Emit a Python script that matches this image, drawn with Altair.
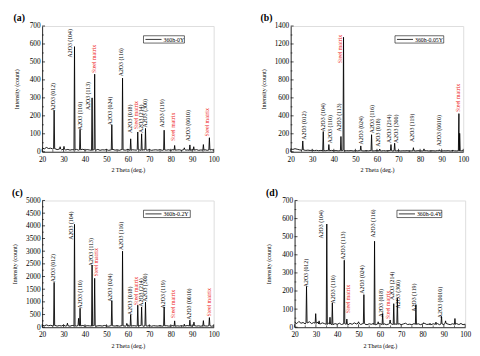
import altair as alt
import pandas as pd

FONT = "Liberation Serif"
RED = "#ee2222"

# ---------------- data ----------------
# baseline intensity at 2θ = 20, 21, ..., 100
a_base = [22, 16, 24, 18, 20, 15, 17, 12, 15, 11, 14, 10, 13, 9, 12, 10, 13, 9,
          11, 14, 9, 12, 10, 8, 11, 9, 13, 8, 11, 10, 12, 8, 10, 13, 9, 11,
          8, 12, 10, 9, 13, 8, 11, 10, 9, 12, 8, 11, 10, 9, 12, 8, 10, 11,
          9, 12, 8, 10, 9, 11, 8, 12, 9, 10, 11, 8, 12, 9, 10, 8, 11, 9,
          12, 8, 10, 9, 11, 8, 10, 12, 9]
a_peak_x = [25.6, 28.4, 30.2, 35.1, 37.7, 43.3, 44.5, 52.5, 57.5, 61.3, 64.6, 66.4,
            68.2, 76.9, 81.8, 86.3, 88.9, 90.7, 95.2, 98.0]
a_peak_h = [230, 28, 30, 585, 125, 300, 432, 150, 410, 72, 110, 100,
            130, 120, 35, 22, 38, 28, 40, 78]
a_lab_t = ["A2O3 (012)", "A2O3 (104)", "A2O3 (110)", "A2O3 (113)", "Steel matrix",
           "A2O3 (024)", "A2O3 (116)", "A2O3 (018)", "Steel matrix", "A2O3 (214)",
           "A2O3 (300)", "A2O3 (119)", "Steel matrix", "A2O3 (0010)", "Steel matrix"]
a_lab_x = [25.1, 33.0, 37.9, 41.3, 44.3, 51.8, 56.7, 60.9, 64.0, 65.9, 68.0, 76.1, 81.0, 88.2, 96.9]
a_lab_y = [225, 525, 121, 232, 438, 148, 420, 105, 125, 105, 135, 135, 60, 58, 85]

b_base = [32, 26, 34, 28, 22, 18, 20, 15, 18, 14, 17, 13, 16, 12, 15, 13, 11, 14,
          12, 15, 11, 13, 10, 12, 14, 10, 12, 11, 13, 9, 12, 10, 13, 11, 9, 12,
          10, 13, 9, 11, 12, 10, 9, 12, 10, 11, 13, 9, 11, 10, 12, 9, 11, 10,
          12, 9, 10, 11, 9, 12, 10, 9, 11, 12, 9, 10, 11, 9, 12, 10, 9, 11,
          10, 12, 9, 11, 10, 9, 11, 10, 12]
b_peak_x = [25.6, 35.1, 37.7, 43.3, 44.5, 52.5, 57.5, 61.3, 66.5, 68.2, 76.9, 81.8,
            88.9, 95.2, 98.0, 98.35]
b_peak_h = [120, 225, 80, 170, 1275, 65, 190, 30, 80, 95, 45, 32, 22, 20, 425, 205]
b_lab_t = ["A2O3 (012)", "A2O3 (104)", "A2O3 (110)", "A2O3 (113)", "Steel matrix",
           "A2O3 (024)", "A2O3 (116)", "A2O3 (018)", "A2O3 (214)", "A2O3 (300)",
           "A2O3 (119)", "A2O3 (0010)", "Steel matrix"]
b_lab_x = [26.2, 35.0, 38.1, 42.4, 43.1, 52.8, 57.9, 60.3, 65.6, 68.7, 76.5, 89.0, 97.6]
b_lab_y = [134, 225, 95, 225, 985, 80, 206, 55, 98, 98, 110, 60, 442]

c_base = [80, 55, 90, 60, 75, 50, 70, 45, 65, 50, 80, 45, 60, 40, 70, 55, 45, 65,
          50, 70, 40, 60, 55, 45, 65, 40, 55, 60, 45, 70, 50, 40, 60, 55, 45, 65,
          40, 60, 50, 45, 65, 40, 55, 60, 45, 50, 70, 40, 55, 45, 65, 40, 60, 50,
          45, 65, 40, 55, 60, 45, 50, 65, 40, 55, 45, 60, 40, 55, 65, 45, 50, 60,
          45, 55, 40, 60, 50, 45, 60, 40, 55]
c_peak_x = [25.6, 31.8, 35.1, 37.0, 37.7, 43.3, 44.5, 52.5, 57.5, 59.5, 61.3, 64.6,
            66.4, 68.2, 76.9, 81.8, 86.3, 88.9, 90.8, 95.2, 98.0]
c_peak_h = [1770, 160, 4060, 350, 750, 2450, 1930, 1050, 3000, 150, 500, 870,
            800, 990, 800, 250, 120, 280, 200, 260, 380]
c_lab_t = ["A2O3 (012)", "A2O3 (104)", "A2O3 (110)", "A2O3 (113)", "Steel matrix",
           "A2O3 (024)", "A2O3 (116)", "A2O3 (018)", "Steel matrix", "A2O3 (214)",
           "A2O3 (300)", "A2O3 (119)", "Steel matrix", "A2O3 (0010)", "Steel matrix"]
c_lab_x = [25.1, 33.3, 37.9, 42.7, 45.0, 51.8, 56.7, 60.9, 64.0, 66.2, 68.2, 76.4, 81.1, 88.5, 97.7]
c_lab_y = [1770, 3450, 742, 2410, 2000, 1000, 3050, 487, 870, 808, 1000, 742, 358, 296, 423]

d_base = [28, 20, 32, 22, 26, 18, 24, 30, 20, 26, 22, 28, 18, 24, 20, 16, 22, 18,
          14, 20, 16, 22, 15, 19, 17, 13, 21, 16, 24, 18, 22, 15, 20, 17, 14, 19,
          16, 21, 14, 18, 20, 15, 19, 14, 17, 21, 15, 18, 16, 20, 14, 18, 22, 15,
          17, 14, 20, 16, 19, 14, 18, 21, 15, 17, 14, 19, 16, 20, 14, 18, 15, 21,
          17, 14, 19, 16, 20, 15, 18, 14, 17]
d_peak_x = [25.6, 29.9, 31.5, 35.1, 36.6, 37.7, 43.3, 44.5, 50.0, 52.5, 57.5, 59.2,
            61.3, 64.8, 66.5, 68.2, 76.9, 80.5, 83.5, 86.3, 88.9, 90.8, 95.2, 98.0]
d_peak_h = [225, 75, 35, 570, 55, 135, 370, 45, 30, 180, 475, 30,
            75, 40, 130, 160, 125, 25, 22, 28, 60, 35, 48, 22]
d_lab_t = ["A2O3 (012)", "A2O3 (104)", "A2O3 (110)", "A2O3 (113)", "Steel matrix",
           "A2O3 (024)", "A2O3 (116)", "A2O3 (018)", "Steel matrix", "A2O3 (214)",
           "A2O3 (300)", "A2O3 (119)", "A2O3 (0010)"]
d_lab_x = [25.5, 32.6, 38.1, 42.9, 44.9, 51.8, 56.8, 60.6, 63.9, 65.5, 68.4, 75.8, 88.2]
d_lab_y = [221, 490, 131, 373, 77, 185, 495, 55, 45, 150, 104, 86, 50]

series_names = ["360h-0Y", "360h-0.05Y", "360h-0.2Y", "360h-0.4Y"]
panel_tags = ["(a)", "(b)", "(c)", "(d)"]

x_major = [20, 30, 40, 50, 60, 70, 80, 90, 100]
x_minor = [25, 35, 45, 55, 65, 75, 85, 95]
yt_a = [0, 100, 200, 300, 400, 500, 600, 700]
ym_a = [50, 150, 250, 350, 450, 550, 650]
yt_b = [0, 200, 400, 600, 800, 1000, 1200, 1400]
ym_b = [100, 300, 500, 700, 900, 1100, 1300]
yt_c = [0, 500, 1000, 1500, 2000, 2500, 3000, 3500, 4000, 4500, 5000]
ym_c = [250, 750, 1250, 1750, 2250, 2750, 3250, 3750, 4250, 4750]


def spectrum(base, px, ph, hw=0.25):
    rows = []
    for i, b in enumerate(base):
        x = 20 + i
        if min(abs(x - p) for p in px) > hw + 0.05:
            rows.append((x, b))
    for p, h in zip(px, ph):
        b = base[int(round(p)) - 20]
        rows += [(p - hw, b), (p, h), (p + hw, b)]
    rows.sort()
    return pd.DataFrame(rows, columns=["x", "y"])


def panel(idx, base, px, ph, lt, lx, ly, yt, ym, W, H, tpad, box):
    xs = alt.Scale(domain=[20, 100], nice=False, zero=False)
    ys = alt.Scale(domain=[0, yt[-1]], nice=False)
    ax_x = alt.Axis(
        values=x_major, title="2 Theta (deg.)", ticks=False, grid=False,
        labelFont=FONT, labelFontSize=7.5, labelColor="black", labelPadding=4,
        labelFlush=False, titleFont=FONT, titleFontSize=6.2, titleFontWeight="normal",
        titleColor="black", titlePadding=4, domainColor="black", domainWidth=0.8)
    ax_y = alt.Axis(
        values=yt, format="d", title="Intensity (count)", ticks=False, grid=False,
        labelFont=FONT, labelFontSize=7.5, labelColor="black", labelPadding=2,
        labelFlush=False, titleFont=FONT, titleFontSize=6.2, titleFontWeight="normal",
        titleColor="black", titlePadding=tpad, domainColor="black", domainWidth=0.8)
    X = alt.X("x:Q", scale=xs, axis=ax_x)
    Y = alt.Y("y:Q", scale=ys, axis=ax_y)

    spec = spectrum(base, px, ph)
    line = alt.Chart(spec).mark_line(color="black", strokeWidth=0.9).encode(x=X, y=Y)

    labs = pd.DataFrame({"t": lt, "x": lx, "y": ly})
    labs["red"] = labs["t"].str.startswith("Steel")
    txt_common = dict(angle=270, align="left", baseline="middle", font=FONT, fontSize=6)
    black_txt = alt.Chart(labs[~labs["red"]]).mark_text(color="black", **txt_common).encode(
        x=X, y=Y, text="t:N")
    red_txt = alt.Chart(labs[labs["red"]]).mark_text(color=RED, **txt_common).encode(
        x=X, y=Y, text="t:N")
    # inward ticks
    ymaj = alt.Chart(pd.DataFrame({"y": yt})).mark_rule(color="black", strokeWidth=0.7).encode(
        y=Y, x=alt.value(0), x2=alt.value(3))
    ymin = alt.Chart(pd.DataFrame({"y": ym})).mark_rule(color="black", strokeWidth=0.6).encode(
        y=Y, x=alt.value(0), x2=alt.value(1.8))
    xmaj = alt.Chart(pd.DataFrame({"x": x_major})).mark_rule(color="black", strokeWidth=0.7).encode(
        x=X, y=alt.value(H), y2=alt.value(H - 3))
    xmin = alt.Chart(pd.DataFrame({"x": x_minor})).mark_rule(color="black", strokeWidth=0.6).encode(
        x=X, y=alt.value(H), y2=alt.value(H - 1.8))
    # legend box
    leg = pd.DataFrame({"s": [series_names[idx]]})
    lx0, ly0, lw = box
    leg_box = alt.Chart(leg).mark_rect(fill="white", stroke="black", strokeWidth=0.6).encode(
        x=alt.value(lx0), x2=alt.value(lx0 + lw), y=alt.value(ly0), y2=alt.value(ly0 + 7.5))
    leg_line = alt.Chart(leg).mark_rule(color="black", strokeWidth=0.8).encode(
        x=alt.value(lx0 + 2), x2=alt.value(lx0 + 18.5), y=alt.value(ly0 + 3.75))
    leg_txt = alt.Chart(leg).mark_text(align="left", baseline="middle", font=FONT,
                                       fontSize=6, color="black").encode(
        x=alt.value(lx0 + 20.5), y=alt.value(ly0 + 4.1), text="s:N")
    return alt.layer(line, black_txt, red_txt, ymaj, ymin, xmaj, xmin,
                     leg_box, leg_line, leg_txt).properties(
        width=W, height=H,
        title=alt.TitleParams(panel_tags[idx], anchor="start", font=FONT, fontSize=10,
                              fontWeight="bold", color="black", offset=-1))


pa = panel(0, a_base, a_peak_x, a_peak_h, a_lab_t, a_lab_x, a_lab_y, yt_a, ym_a, 176, 129, 10, (104, 10, 42))
pb = panel(1, b_base, b_peak_x, b_peak_h, b_lab_t, b_lab_x, b_lab_y, yt_b, ym_b, 177, 129, 8, (107, 10, 50))
pc = panel(2, c_base, c_peak_x, c_peak_h, c_lab_t, c_lab_x, c_lab_y, yt_c, ym_c, 176, 130, 8, (104, 10, 48))
pd_ = panel(3, d_base, d_peak_x, d_peak_h, d_lab_t, d_lab_x, d_lab_y, yt_a, ym_a, 175, 130, 10, (105, 10, 46))

row1 = alt.hconcat(pa, pb, spacing=40)
row2 = alt.hconcat(pc, pd_, spacing=46)
chart = alt.vconcat(row1, row2, spacing=13).properties(
    padding={"left": 3, "top": 0, "right": 0, "bottom": 0}
).configure_view(stroke="black", strokeWidth=0.8).configure(background="white")

chart.save("out.html", embed_options={"renderer": "svg", "actions": False})
